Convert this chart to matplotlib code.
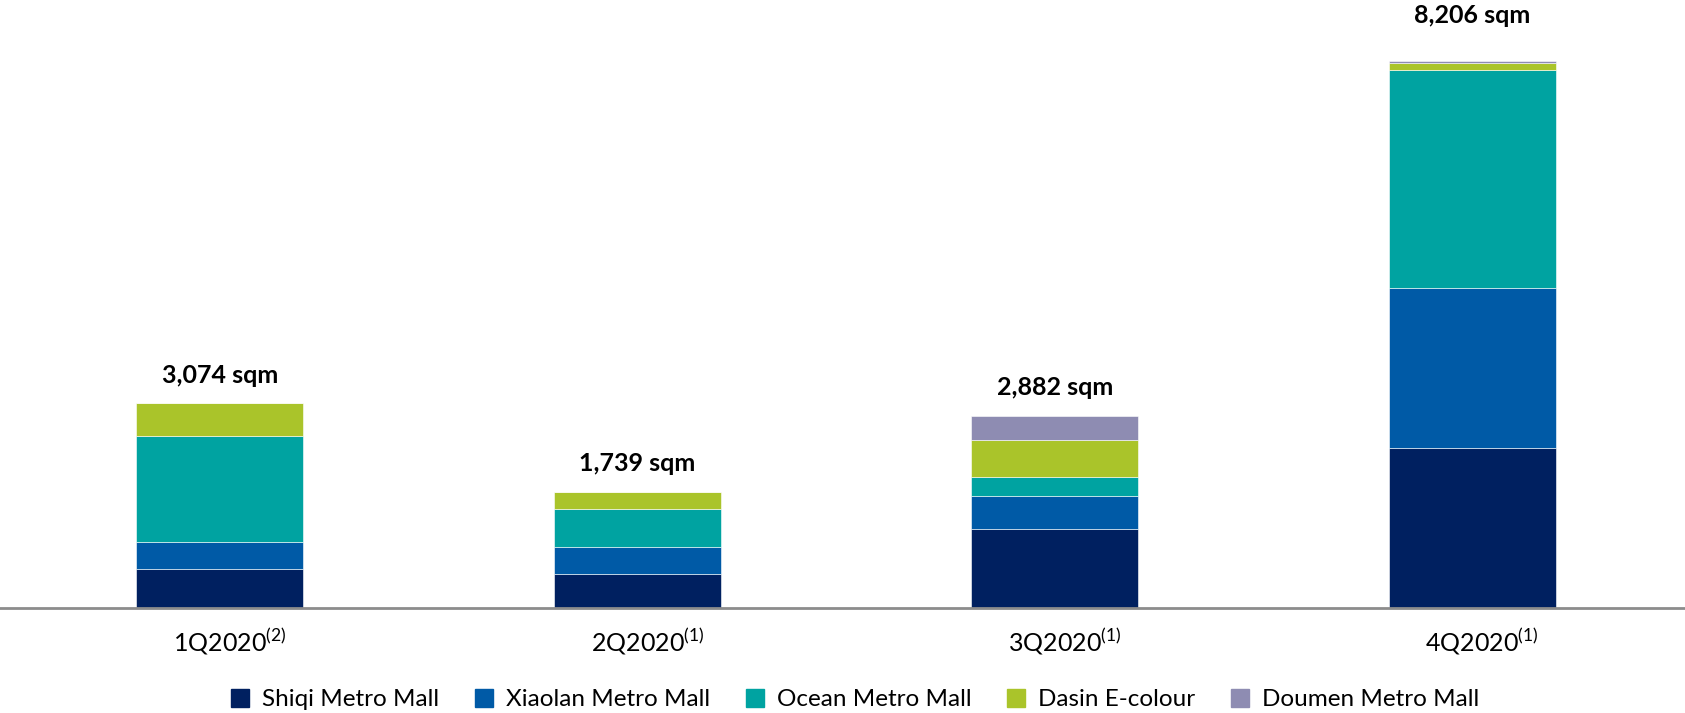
import numpy as np
import matplotlib.pyplot as plt
import matplotlib.transforms as mtransforms

plt.rcParams['font.family'] = ['Lato', 'DejaVu Sans']
plt.rcParams['mathtext.fontset'] = 'custom'
plt.rcParams['mathtext.rm'] = 'Lato'

quarters = ['1Q2020$^{\\mathregular{(2)}}$', '2Q2020$^{\\mathregular{(1)}}$',
            '3Q2020$^{\\mathregular{(1)}}$', '4Q2020$^{\\mathregular{(1)}}$']
malls = ['Shiqi Metro Mall', 'Xiaolan Metro Mall', 'Ocean Metro Mall',
         'Dasin E-colour', 'Doumen Metro Mall']

# area by mall, sqm
shiqi = [589, 514, 1182, 2400]
xiaolan = [400, 408, 496, 2405]
ocean = [1600, 565, 286, 3276]
dasin = [485, 252, 563, 100]
doumen = [0, 0, 355, 25]
totals = [3074, 1739, 2882, 8206]

colors = ['#002060', '#005AA6', '#00A3A1', '#AAC42A', '#8E8CB2']

fig = plt.figure(figsize=(16.85, 7.13), dpi=100)
ax = fig.add_axes([0, 105 / 713, 1, 608 / 713])

x = np.arange(len(quarters))
bottom = np.zeros(len(quarters))
handles = []
for vals, col, name in zip([shiqi, xiaolan, ocean, dasin, doumen], colors, malls):
    ax.bar(x, vals, 0.4, bottom=bottom, color=col, edgecolor='white',
           linewidth=0.4)
    bottom += np.array(vals)
    handles.append(plt.Line2D([], [], marker='s', linestyle='none',
                              markersize=13, color=col, label=name))

# the last label sits higher above its bar
label_pad = [12, 12, 12, 25]
for xi, t, pad in zip(x, totals, label_pad):
    ax.annotate(f'{t:,} sqm', (xi, t), xytext=(0, pad), textcoords='offset points',
                ha='center', va='bottom', fontsize=18, fontweight='bold')

ax.set_xlim(-0.527, 3.51)
ax.set_ylim(0, 8206 * 608 / 546.6)
ax.set_xticks(x)
ax.set_xticklabels(quarters, fontsize=18)
ax.tick_params(axis='x', length=0, pad=13)
# centre the quarter text, not the footnote mark, under the bar
shift = mtransforms.ScaledTranslation(10 / 100, 0, fig.dpi_scale_trans)
for lbl in ax.get_xticklabels():
    lbl.set_transform(lbl.get_transform() + shift)
ax.set_yticks([])
for s in ['top', 'right', 'left']:
    ax.spines[s].set_visible(False)
ax.spines['bottom'].set_color('#8c8c8c')
ax.spines['bottom'].set_linewidth(2)

fig.legend(handles=handles, loc='lower center', ncol=5, frameon=False,
           fontsize=17.5, bbox_to_anchor=(0.503, -0.027), handletextpad=-0.1,
           columnspacing=0.85)

fig.savefig('out.png', dpi=100)
